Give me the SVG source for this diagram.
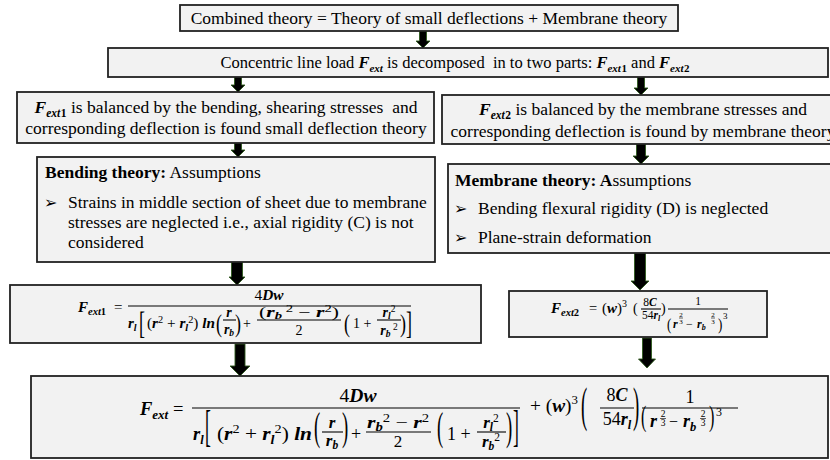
<svg xmlns="http://www.w3.org/2000/svg" width="830" height="460" viewBox="0 0 830 460">
<style>
.bx{fill:#f2f2f2;stroke:#222;stroke-width:1.8}
.t{font-family:"Liberation Serif","Times New Roman",serif;fill:#000;white-space:pre}
.b{font-weight:bold}
.m{font-family:"Liberation Serif","Times New Roman",serif;font-style:italic;font-weight:bold;fill:#000;white-space:pre}
.n{font-family:"Liberation Serif","Times New Roman",serif;fill:#000;white-space:pre}
.r{font-style:normal;font-weight:normal}
.ub{font-style:normal;font-weight:bold}
.d{font-family:"Liberation Serif",serif;fill:#000}
.bl{font-family:"DejaVu Sans",sans-serif;fill:#000}
.fb{stroke:#000;stroke-width:1.1}
.tf{stroke:#000;stroke-width:0.6}
.ar{fill:#000;stroke:#2f5a1e;stroke-width:0.9}
</style>
<rect width="830" height="460" fill="#fff"/>
<g id="connectors">
<path class="ar" d="M419.5 31 H426.5 V41 H430 L423 48 L416 41 H419.5 Z"/>
<path class="ar" d="M234.5 77 H241.5 V85 H245 L238 92 L231 85 H234.5 Z"/>
<path class="ar" d="M637.5 77 H644.5 V88 H648 L641 95 L634 88 H637.5 Z"/>
<path class="ar" d="M234.5 143 H241.5 V150 H245 L238 157 L231 150 H234.5 Z"/>
<path class="ar" d="M636.5 144 H645.5 V156 H649 L641 164 L633 156 H636.5 Z"/>
<path class="ar" d="M231.5 262 H242.5 V277 H245 L237 285 L229 277 H231.5 Z"/>
<path class="ar" d="M634.5 253 H645.5 V281 H649 L640 290 L631 281 H634.5 Z"/>
<path class="ar" d="M235 344 H245 V366 H250 L240 376 L230 366 H235 Z"/>
<path class="ar" d="M642.5 338 H651.5 V359 H655.5 L647 368 L638.5 359 H642.5 Z"/>
</g>
<g id="n1">
<rect class="bx" x="180" y="5" width="498" height="26"/>
<text class="t" x="429" y="24" font-size="17.5" text-anchor="middle">Combined theory = Theory of small deflections + Membrane theory</text>
</g>
<g id="n2">
<rect class="bx" x="108" y="48" width="720" height="29"/>
<text class="t" x="455" y="68" font-size="16.5" text-anchor="middle">Concentric line load <tspan class="m" font-size="16.5">F</tspan><tspan class="m" font-size="11" dy="4">ext</tspan><tspan dy="-4"> is decomposed  in to two parts: </tspan><tspan class="m" font-size="16.5">F</tspan><tspan class="m" font-size="11" dy="4">ext</tspan><tspan class="m ub" font-size="11" dx="0.5">1</tspan><tspan dy="-4"> and </tspan><tspan class="m" font-size="16.5">F</tspan><tspan class="m" font-size="11" dy="4">ext</tspan><tspan class="m ub" font-size="11" dx="0.5">2</tspan></text>
</g>
<g id="n3">
<rect class="bx" x="17" y="92" width="417" height="51"/>
<text class="t" x="226" y="113" font-size="17.5" text-anchor="middle"><tspan class="m">F</tspan><tspan class="m" font-size="11.5" dy="4">ext</tspan><tspan class="m ub" font-size="11.5" dx="0.5">1</tspan><tspan dy="-4"> is balanced by the bending, shearing stresses  and</tspan></text>
<text class="t" x="226" y="134" font-size="17.5" text-anchor="middle">corresponding deflection is found small deflection theory</text>
</g>
<g id="n4">
<rect class="bx" x="442" y="95" width="410" height="49"/>
<text class="t" x="643" y="115" font-size="17.5" text-anchor="middle"><tspan class="m">F</tspan><tspan class="m" font-size="11.5" dy="3.5">ext</tspan><tspan class="m ub" font-size="11.5" dx="0.5">2</tspan><tspan dy="-3.5"> is balanced by the membrane stresses and</tspan></text>
<text class="t" x="643" y="137" font-size="17.5" text-anchor="middle">corresponding deflection is found by membrane theory</text>
</g>
<g id="n5">
<rect class="bx" x="37" y="157" width="398" height="105"/>
<text class="t" x="45" y="178" font-size="17.5"><tspan class="b">Bending theory:</tspan> Assumptions</text>
<text class="bl" x="44" y="208" font-size="16">➢</text>
<text class="t" x="68" y="208" font-size="17.5">Strains in middle section of sheet due to membrane</text>
<text class="t" x="68" y="228" font-size="17.5">stresses are neglected i.e., axial rigidity (C) is not</text>
<text class="t" x="68" y="248" font-size="17.5">considered</text>
</g>
<g id="n6">
<rect class="bx" x="448" y="164" width="400" height="89"/>
<text class="t" x="455" y="186" font-size="17.5"><tspan class="b">Membrane theory: A</tspan>ssumptions</text>
<text class="bl" x="454" y="214" font-size="16">➢</text>
<text class="t" x="478" y="214" font-size="17.5">Bending flexural rigidity (D) is neglected</text>
<text class="bl" x="454" y="243" font-size="16">➢</text>
<text class="t" x="478" y="243" font-size="17.5">Plane-strain deformation</text>
</g>
<g id="n7">
<rect class="bx" x="10" y="285" width="471" height="58"/>
<text class="m" x="78" y="312" font-size="15">F<tspan font-size="10.5" dy="3">ext</tspan><tspan class="ub" font-size="10.5">1</tspan></text>
<text class="n" x="114" y="312" font-size="15">=</text>
<line class="fb" x1="128" y1="306" x2="411" y2="306"/>
<text class="n" x="269" y="300" font-size="15" text-anchor="middle" textLength="29" lengthAdjust="spacingAndGlyphs">4<tspan class="m">Dw</tspan></text>
<text class="m" x="128" y="328" font-size="15">r<tspan font-size="10" dy="3">l</tspan></text>
<text class="d" font-size="20" transform="translate(139,334) scale(0.9,1.53)">[</text>
<text class="n" x="147" y="328" font-size="14" textLength="68" lengthAdjust="spacingAndGlyphs">(<tspan class="m">r</tspan><tspan font-size="9.5" dy="-5">2</tspan><tspan dy="5"> + </tspan><tspan class="m">r</tspan><tspan class="m" font-size="9.5" dy="3">l</tspan><tspan font-size="9.5" dy="-8">2</tspan><tspan dy="5">) </tspan><tspan class="m">ln</tspan></text>
<text class="d" font-size="20" transform="translate(216,332) scale(0.9,1.21)">(</text>
<text class="m" x="229" y="317" font-size="14" text-anchor="middle">r</text>
<line class="fb" x1="223" y1="320" x2="236" y2="320"/>
<text class="m" x="229" y="334" font-size="14" text-anchor="middle">r<tspan font-size="9.5" dy="2">b</tspan></text>
<text class="d" font-size="20" transform="translate(235,332) scale(0.9,1.21)">)</text>
<text class="n" x="243" y="328" font-size="14">+</text>
<text class="n" x="299" y="317" font-size="14" text-anchor="middle" textLength="80" lengthAdjust="spacingAndGlyphs">(<tspan class="m">r</tspan><tspan class="m" font-size="9.5" dy="2">b</tspan><tspan font-size="9.5" dy="-7"> 2</tspan><tspan dy="5"> − </tspan><tspan class="m">r</tspan><tspan font-size="9.5" dy="-5">2</tspan><tspan dy="5">)</tspan></text>
<line class="fb" x1="257" y1="320" x2="341" y2="320"/>
<text class="n" x="299" y="335" font-size="14" text-anchor="middle">2</text>
<text class="d" font-size="20" transform="translate(344,332) scale(0.9,1.21)">(</text>
<text class="n" x="353" y="328" font-size="14">1 +</text>
<text class="m" x="389" y="317" font-size="14" text-anchor="middle">r<tspan font-size="9.5" dy="2">l</tspan><tspan class="r" font-size="9.5" dy="-7">2</tspan></text>
<line class="fb" x1="377" y1="320" x2="401" y2="320"/>
<text class="m" x="389" y="335" font-size="14" text-anchor="middle">r<tspan font-size="9.5" dy="2">b</tspan><tspan class="r" font-size="9.5" dy="-7"> 2</tspan></text>
<text class="d" font-size="20" transform="translate(400,332) scale(0.9,1.21)">)</text>
<text class="d" font-size="20" transform="translate(406,334) scale(0.9,1.53)">]</text>
</g>
<g id="n8">
<rect class="bx" x="509" y="291" width="258" height="46"/>
<text class="m" x="551" y="313" font-size="15">F<tspan font-size="10.5" dy="3">ext</tspan><tspan class="ub" font-size="10.5">2</tspan></text>
<text class="n" x="589" y="313" font-size="14.5">=</text>
<text class="n" x="602" y="313" font-size="15">(<tspan class="m">w</tspan>)<tspan font-size="10" dy="-6">3</tspan></text>
<text class="n" x="633" y="313" font-size="14">(</text>
<text class="n" x="650" y="306" font-size="11.5" text-anchor="middle">8<tspan class="m">C</tspan></text>
<line class="fb" x1="641" y1="309" x2="661" y2="309"/>
<text class="n" x="651" y="319" font-size="11.5" text-anchor="middle">54<tspan class="m">r</tspan><tspan class="m" font-size="8" dy="2">l</tspan></text>
<text class="n" x="661" y="313" font-size="14">)</text>
<text class="n" x="698" y="305" font-size="11.5" text-anchor="middle">1</text>
<line class="fb" x1="668" y1="309" x2="728" y2="309"/>
<text class="d" font-size="13" transform="translate(667,330) scale(1,1.35)">(</text>
<text class="m" x="673" y="328" font-size="12">r</text>
<text class="n" x="681" y="316.5" font-size="7" text-anchor="middle">2</text>
<line class="tf" x1="679" y1="318" x2="683" y2="318"/>
<text class="n" x="681" y="323.5" font-size="7" text-anchor="middle">3</text>
<text class="n" x="686" y="328" font-size="12">−</text>
<text class="m" x="697" y="328" font-size="12">r<tspan font-size="8" dy="2">b</tspan></text>
<text class="n" x="713" y="316.5" font-size="7" text-anchor="middle">2</text>
<line class="tf" x1="711" y1="318" x2="715" y2="318"/>
<text class="n" x="713" y="323.5" font-size="7" text-anchor="middle">3</text>
<text class="d" font-size="13" transform="translate(718,330) scale(1,1.35)">)</text>
<text class="n" x="723" y="319" font-size="9">3</text>
</g>
<g id="n9">
<rect class="bx" x="31" y="376" width="797" height="82"/>
<text class="m" x="140" y="415" font-size="18.5">F<tspan font-size="13" dy="4">ext</tspan></text>
<text class="n" x="173" y="415" font-size="18.5">=</text>
<line class="fb" x1="192" y1="408" x2="520" y2="408"/>
<text class="n" x="358" y="402" font-size="18.5" text-anchor="middle" textLength="37" lengthAdjust="spacingAndGlyphs">4<tspan class="m">Dw</tspan></text>
<text class="m" x="193" y="440" font-size="18.5">r<tspan font-size="12.5" dy="4">l</tspan></text>
<text class="d" font-size="22" transform="translate(205,441) scale(0.8,2)">[</text>
<text class="n" x="217" y="440" font-size="18" textLength="95" lengthAdjust="spacingAndGlyphs">(<tspan class="m">r</tspan><tspan font-size="12" dy="-7">2</tspan><tspan dy="7"> + </tspan><tspan class="m">r</tspan><tspan class="m" font-size="12" dy="4">l</tspan><tspan font-size="12" dy="-11">2</tspan><tspan dy="7">) </tspan><tspan class="m">ln</tspan></text>
<text class="d" font-size="22" transform="translate(314,439.5) scale(0.85,1.8)">(</text>
<text class="m" x="332" y="428" font-size="17" text-anchor="middle">r</text>
<line class="fb" x1="322" y1="432" x2="343" y2="432"/>
<text class="m" x="332" y="446" font-size="17" text-anchor="middle">r<tspan font-size="11.5" dy="3">b</tspan></text>
<text class="d" font-size="22" transform="translate(342,439.5) scale(0.85,1.8)">)</text>
<text class="n" x="351" y="440" font-size="18">+</text>
<text class="n" x="398" y="428" font-size="17" text-anchor="middle" textLength="62" lengthAdjust="spacingAndGlyphs"><tspan class="m">r</tspan><tspan class="m" font-size="11.5" dy="3">b</tspan><tspan font-size="11.5" dy="-9">2</tspan><tspan dy="6"> − </tspan><tspan class="m">r</tspan><tspan font-size="11.5" dy="-6">2</tspan></text>
<line class="fb" x1="366" y1="432" x2="431" y2="432"/>
<text class="n" x="398" y="447" font-size="17" text-anchor="middle">2</text>
<text class="d" font-size="22" transform="translate(437,439.5) scale(0.85,1.8)">(</text>
<text class="n" x="447" y="440" font-size="18">1 +</text>
<text class="m" x="491" y="428" font-size="17" text-anchor="middle">r<tspan font-size="11.5" dy="3">l</tspan><tspan class="r" font-size="11.5" dy="-9">2</tspan></text>
<line class="fb" x1="477" y1="432" x2="506" y2="432"/>
<text class="m" x="491" y="447" font-size="17" text-anchor="middle">r<tspan font-size="11.5" dy="3">b</tspan><tspan class="r" font-size="11.5" dy="-9">2</tspan></text>
<text class="d" font-size="22" transform="translate(506,439.5) scale(0.85,1.8)">)</text>
<text class="d" font-size="22" transform="translate(513,441) scale(0.8,2)">]</text>
<text class="n" x="530" y="412" font-size="18" textLength="48" lengthAdjust="spacingAndGlyphs">+ (<tspan class="m">w</tspan>)<tspan font-size="12" dy="-8">3</tspan></text>
<text class="d" font-size="22" transform="translate(581,421) scale(0.85,2.25)">(</text>
<text class="n" x="617" y="401" font-size="18" text-anchor="middle">8<tspan class="m">C</tspan></text>
<line class="fb" x1="600" y1="408" x2="634" y2="408"/>
<text class="n" x="617" y="425" font-size="18" text-anchor="middle">54<tspan class="m">r</tspan><tspan class="m" font-size="12.5" dy="4">l</tspan></text>
<text class="d" font-size="22" transform="translate(633,421) scale(0.85,2.25)">)</text>
<text class="n" x="690" y="403" font-size="18" text-anchor="middle">1</text>
<line class="fb" x1="642" y1="408" x2="738" y2="408"/>
<text class="d" font-size="18" transform="translate(641,425.6) scale(0.9,1.65)">(</text>
<text class="m" x="650" y="427" font-size="18">r</text>
<text class="n" x="663" y="416.5" font-size="9.5" text-anchor="middle">2</text>
<line class="tf" x1="660" y1="418.5" x2="666" y2="418.5"/>
<text class="n" x="663" y="426" font-size="9.5" text-anchor="middle">3</text>
<text class="n" x="669" y="427" font-size="16">−</text>
<text class="m" x="683" y="427" font-size="18">r<tspan font-size="12.5" dy="4">b</tspan></text>
<text class="n" x="703" y="416.5" font-size="9.5" text-anchor="middle">2</text>
<line class="tf" x1="700" y1="418.5" x2="706" y2="418.5"/>
<text class="n" x="703" y="426" font-size="9.5" text-anchor="middle">3</text>
<text class="d" font-size="18" transform="translate(709,425.6) scale(0.9,1.65)">)</text>
<text class="n" x="716" y="416" font-size="12">3</text>
</g>
</svg>
